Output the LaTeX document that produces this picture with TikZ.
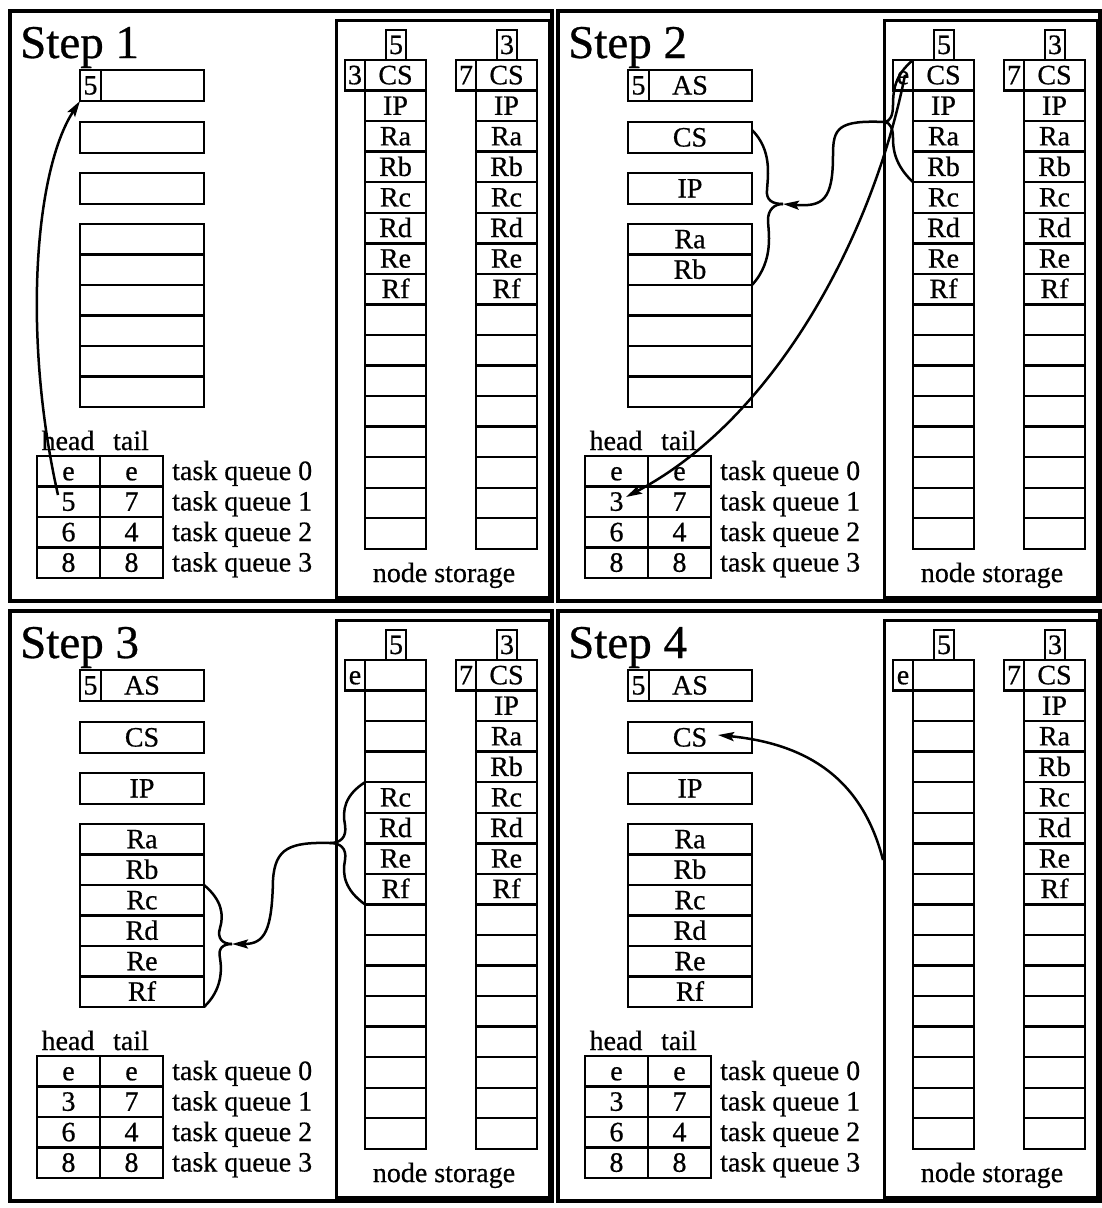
\documentclass[tikz,border=0pt]{standalone}
\usepackage{fontspec}
\setmainfont{Liberation Serif}[FakeBold=0.6]
\usetikzlibrary{arrows.meta}
\newcommand\smallfont{\fontsize{28}{30}\selectfont}
\newcommand\bigfont{\fontsize{47}{50}\selectfont}
\tikzset{
  panelframe/.style={draw, line width=3.8pt},
  storeframe/.style={draw, line width=2.5pt, inner sep=0pt, anchor=north west},
  cellbox/.style={draw, line width=2.4pt, inner sep=0pt, outer sep=0pt, anchor=north west,
     font=\smallfont, text height=18pt, text depth=0pt},
  lbl/.style={inner sep=0pt, font=\smallfont},
  steplbl/.style={inner sep=0pt, font=\bigfont, anchor=base west},
  link/.style={line width=2.5pt},
  mover/.style={line width=2.5pt, -{Stealth[length=16pt,width=9pt,inset=3pt]}},
}
% one column of node storage
\newcommand\storagecol[5]{%
  \node[cellbox, minimum width=20pt, minimum height=30pt] (#1-top) at (#2+21,30) {#3};
  \node[cellbox, minimum width=20pt, minimum height=30.5pt] (#1-side) at (#2-20,60) {#4};
  \foreach \lab [count=\ii from 0] in {#5} {
    \node[cellbox, minimum width=61pt, minimum height=30.55pt] (#1-\ii) at (#2,{60+30.55*\ii}) {\lab};
  }
}
% parts common to every panel
\newcommand\common[3]{%
  \draw[panelframe] (10,11) rectangle (552,601);
  \node[steplbl] (#1-step) at (20,58) {Step #2};
  \node[storeframe, minimum width=213pt, minimum height=577pt] (#1-store) at (335,19) {};
  \node[lbl, anchor=base] (#1-nslbl) at (444,582) {node storage};
  \storagecol{#1b}{476}{3}{7}{CS,IP,Ra,Rb,Rc,Rd,Re,Rf,{},{},{},{},{},{},{},{}}
  \node[lbl, anchor=base] (#1-head) at (68,450) {head};
  \node[lbl, anchor=base] (#1-tail) at (131,450) {tail};
  \foreach \hv/\tv [count=\rr from 0] in {e/e,#3/7,6/4,8/8} {
    \node[cellbox, minimum width=63pt, minimum height=30.5pt] (#1-t\rr-h) at (37,{456+30.5*\rr}) {\hv};
    \node[cellbox, minimum width=63pt, minimum height=30.5pt] (#1-t\rr-t) at (100,{456+30.5*\rr}) {\tv};
    \node[lbl, anchor=base west] (#1-q\rr) at (172,{456+30.5*\rr+24}) {task queue \rr};
  }
}
% the stack on the left
\newcommand\stack[5]{%
  \node[cellbox, minimum width=124pt, minimum height=31pt] (#1-A) at (80,70) {#2};
  \node[cellbox, minimum width=21pt, minimum height=31pt] (#1-A5) at (80,70) {5};
  \node[cellbox, minimum width=124pt, minimum height=31pt] (#1-B) at (80,122) {#3};
  \node[cellbox, minimum width=124pt, minimum height=31pt] (#1-C) at (80,173) {#4};
  \foreach \lab [count=\ii from 0] in {#5} {
    \node[cellbox, minimum width=124pt, minimum height=30.5pt] (#1-R\ii) at (80,{224+30.5*\ii}) {\lab};
  }
}
\begin{document}
\begin{tikzpicture}[x=1pt,y=-1pt]
\useasboundingbox (0,0) rectangle (1102,1208);

% ---------------- Step 1
\begin{scope}
  \common{p1}{1}{5}
  \storagecol{p1a}{365}{5}{3}{CS,IP,Ra,Rb,Rc,Rd,Re,Rf,{},{},{},{},{},{},{},{}}
  \stack{p1}{}{}{}{{},{},{},{},{},{}}
  \coordinate (p1-from) at (58,495);
  \draw[mover] (p1-from) .. controls (22,335) and (35,170) .. (p1-A5.south west);
\end{scope}

% ---------------- Step 2
\begin{scope}[shift={(548,0)}]
  \common{p2}{2}{3}
  \storagecol{p2a}{365}{5}{e}{CS,IP,Ra,Rb,Rc,Rd,Re,Rf,{},{},{},{},{},{},{},{}}
  \stack{p2}{AS}{CS}{IP}{Ra,Rb,{},{},{},{}}
  \coordinate (p2-j1) at (337,122);
  \coordinate (p2-j2) at (235,204);
  \draw[link] (p2a-0.north west) .. controls (347,75) and (345,90) .. (345,105)
     .. controls (345,116) and (342,121) .. (p2-j1);
  \draw[link] (p2a-3.south west) .. controls (347,165) and (345,150) .. (345,138)
     .. controls (345,128) and (342,123) .. (p2-j1);
  \draw[link] ([yshift=-8pt]p2-B.north east) .. controls (224,150) and (220,175) .. (219,190)
     .. controls (218,200) and (224,204) .. (p2-j2);
  \draw[link] (p2-R1.south east) .. controls (227,260) and (220,230) .. (220,220)
     .. controls (220,210) and (226,204) .. (p2-j2);
  \draw[mover] (p2-j1) .. controls (290,120) and (285,128) .. (285,155)
     .. controls (285,200) and (275,207) .. (p2-j2);
  \coordinate (p2-from) at (357,75);
  \coordinate (p2-to) at (78,497);
  \draw[mover] (p2-from) .. controls (325,235) and (228,418) .. (p2-to);
\end{scope}

% ---------------- Step 3
\begin{scope}[shift={(0,600)}]
  \common{p3}{3}{3}
  \storagecol{p3a}{365}{5}{e}{{},{},{},{},Rc,Rd,Re,Rf,{},{},{},{},{},{},{},{}}
  \stack{p3}{AS}{CS}{IP}{Ra,Rb,Rc,Rd,Re,Rf}
  \coordinate (p3-j1) at (330,243);
  \coordinate (p3-j2) at (232,344);
  \draw[link] (p3a-4.north west) .. controls (345,195) and (342,210) .. (345,225)
     .. controls (347,238) and (340,243) .. (p3-j1);
  \draw[link] (p3a-7.south west) .. controls (345,290) and (342,275) .. (345,260)
     .. controls (347,248) and (340,243) .. (p3-j1);
  \draw[link] (p3-R2.north east) .. controls (222,300) and (224,315) .. (220,328)
     .. controls (217,338) and (222,344) .. (p3-j2);
  \draw[link] (p3-R5.south east) .. controls (222,390) and (222,370) .. (220,358)
     .. controls (218,349) and (222,344) .. (p3-j2);
  \draw[mover] (p3-j1) .. controls (290,242) and (275,248) .. (273,280)
     .. controls (272,330) and (265,344) .. (p3-j2);
\end{scope}

% ---------------- Step 4
\begin{scope}[shift={(548,600)}]
  \common{p4}{4}{3}
  \storagecol{p4a}{365}{5}{e}{{},{},{},{},{},{},{},{},{},{},{},{},{},{},{},{}}
  \stack{p4}{AS}{CS}{IP}{Ra,Rb,Rc,Rd,Re,Rf}
  \coordinate (p4-from) at (335,260);
  \coordinate (p4-to) at (170,135);
  \draw[mover] (p4-from) .. controls (317,190) and (272,145) .. (p4-to);
\end{scope}
\end{tikzpicture}
\end{document}
